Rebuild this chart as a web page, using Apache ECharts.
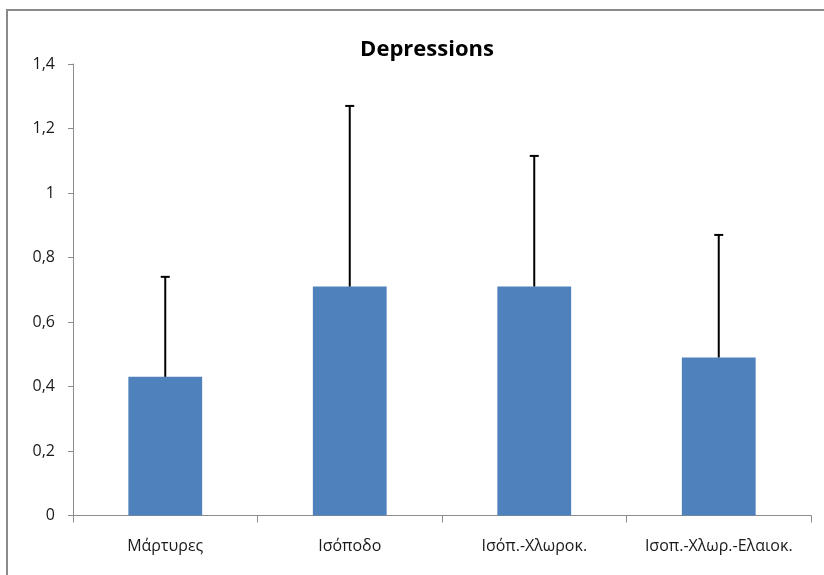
<!DOCTYPE html>
<html>
<head>
<meta charset="utf-8">
<script src="https://cdn.jsdelivr.net/npm/echarts@6/dist/echarts.min.js"></script>
<style>
  html, body { margin: 0; padding: 0; background: #ffffff; }
  #chart { width: 824px; height: 575px; }
</style>
</head>
<body>
<div id="chart"></div>
<script>
// Group labels, group means and the upward standard deviation of each group
const categories = ['Μάρτυρες', 'Ισόποδο', 'Ισόπ.-Χλωροκ.', 'Ισοπ.-Χλωρ.-Ελαιοκ.'];
const means = [0.43, 0.71, 0.71, 0.49];
const deviations = [0.31, 0.56, 0.405, 0.38];
const yTicks = { min: 0, max: 1.4, interval: 0.2 };

const FONT = '"Open Sans", "Noto Sans", sans-serif';
const AXIS_GRAY = '#8c8c8c';

const errorData = means.map((m, i) => [i, m, m + deviations[i]]);

const chart = echarts.init(document.getElementById('chart'), null, { renderer: 'canvas' });

chart.setOption({
  animation: false,
  backgroundColor: '#ffffff',
  title: {
    text: 'Depressions',
    left: 422,
    top: 34,
    textAlign: 'center',
    textStyle: { fontFamily: FONT, fontSize: 22, fontWeight: 'bold', color: '#000000' }
  },
  graphic: [{
    type: 'rect',
    shape: { x: 7, y: 10, width: 840, height: 600 },
    style: { fill: 'none', stroke: '#8a8a8a', lineWidth: 2 },
    silent: true
  }],
  grid: { left: 73, right: 13, top: 64, bottom: 59.5, containLabel: false },
  xAxis: {
    type: 'category',
    data: categories,
    axisLine: { lineStyle: { color: AXIS_GRAY, width: 1 } },
    axisTick: { show: true, interval: 0, length: 7, lineStyle: { color: AXIS_GRAY } },
    axisLabel: { interval: 0, fontFamily: FONT, fontSize: 16, color: '#1a1a1a', margin: 23 },
    splitLine: { show: false }
  },
  yAxis: {
    type: 'value',
    min: yTicks.min,
    max: yTicks.max,
    interval: yTicks.interval,
    axisLine: { show: true, lineStyle: { color: AXIS_GRAY, width: 1 } },
    axisTick: { show: true, length: 5, lineStyle: { color: AXIS_GRAY } },
    axisLabel: {
      fontFamily: FONT, fontSize: 16, color: '#1a1a1a', margin: 18,
      formatter: v => String(Math.round(v * 10) / 10).replace('.', ',')
    },
    splitLine: { show: false }
  },
  series: [
    {
      type: 'bar',
      data: means,
      barWidth: '40%',
      itemStyle: { color: '#4f81bd' },
      z: 2
    },
    {
      type: 'custom',
      data: errorData,
      z: 3,
      renderItem: function (params, api) {
        const base = api.coord([api.value(0), api.value(1)]);
        const top = api.coord([api.value(0), api.value(2)]);
        const cap = 4.5;
        const style = { stroke: '#000000', lineWidth: 2 };
        return {
          type: 'group',
          children: [
            { type: 'line', shape: { x1: base[0], y1: base[1], x2: top[0], y2: top[1] }, style: style },
            { type: 'line', shape: { x1: top[0] - cap, y1: top[1], x2: top[0] + cap, y2: top[1] }, style: style }
          ]
        };
      }
    }
  ]
});
</script>
</body>
</html>
